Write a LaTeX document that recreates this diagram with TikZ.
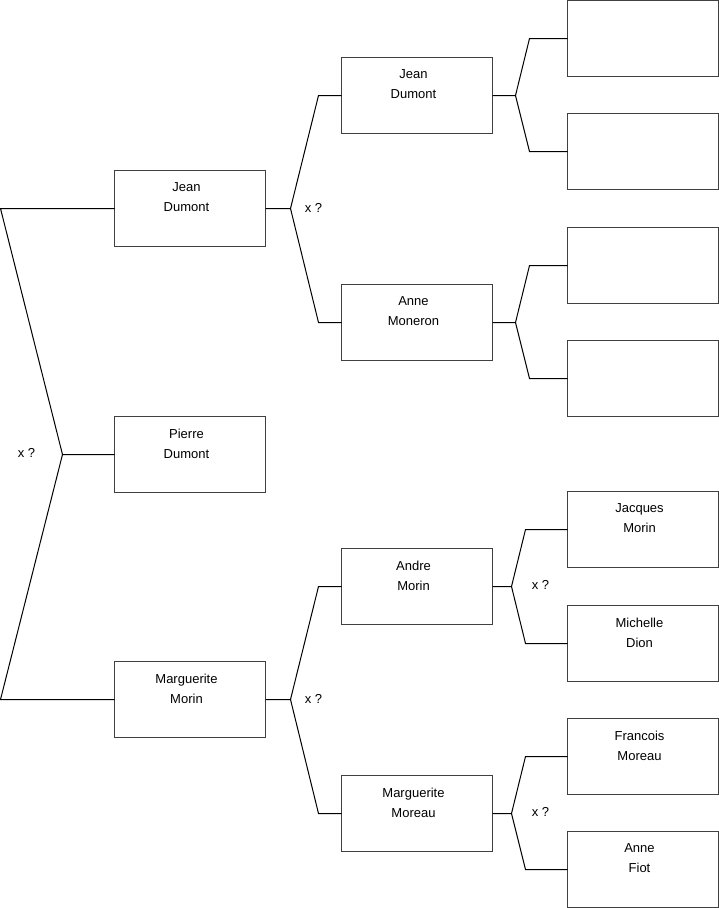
\documentclass[tikz,border=0pt]{standalone}
\usepackage{fontspec}
\setmainfont{Liberation Sans}
\begin{document}
\begin{tikzpicture}[x=1pt,y=-1pt,
  box/.style={draw=black!75, line width=1pt, minimum width=151pt, minimum height=76pt, inner sep=0pt, outer sep=0pt, anchor=north west},
  who/.style={anchor=north, inner sep=0pt, align=center, font=\fontsize{13}{20}\selectfont},
  xq/.style={inner sep=0pt, font=\fontsize{13}{15}\selectfont},
  link/.style={draw=black, line width=1pt}]
\useasboundingbox (-0.5,-0.5) rectangle (718.5,907.5);
% column 1
\node[box] (jd1) at (114,170) {};
\node[box] (pd) at (114,416) {};
\node[box] (mm1) at (114,661) {};
% column 2
\node[box] (jd2) at (341,57) {};
\node[box] (am) at (341,284) {};
\node[box] (an) at (341,548) {};
\node[box] (mmo) at (341,775) {};
% column 3
\node[box] (g1) at (567,0) {};
\node[box] (g2) at (567,113) {};
\node[box] (g3) at (567,227) {};
\node[box] (g4) at (567,340) {};
\node[box] (jm) at (567,491) {};
\node[box] (md) at (567,605) {};
\node[box] (fm) at (567,718) {};
\node[box] (af) at (567,831) {};
% texts
\node[who] (jd1t) at ([xshift=-3.5pt,yshift=-12pt]jd1.north) {Jean\\Dumont};
\node[who] (pdt) at ([xshift=-3.5pt,yshift=-12pt]pd.north) {Pierre\\Dumont};
\node[who] (mm1t) at ([xshift=-3.5pt,yshift=-12pt]mm1.north) {Marguerite\\Morin};
\node[who] (jd2t) at ([xshift=-3.5pt,yshift=-12pt]jd2.north) {Jean\\Dumont};
\node[who] (amt) at ([xshift=-3.5pt,yshift=-12pt]am.north) {Anne\\Moneron};
\node[who] (ant) at ([xshift=-3.5pt,yshift=-12pt]an.north) {Andre\\Morin};
\node[who] (mmot) at ([xshift=-3.5pt,yshift=-12pt]mmo.north) {Marguerite\\Moreau};
\node[who] (jmt) at ([xshift=-3.5pt,yshift=-12pt]jm.north) {Jacques\\Morin};
\node[who] (mdt) at ([xshift=-3.5pt,yshift=-12pt]md.north) {Michelle\\Dion};
\node[who] (fmt) at ([xshift=-3.5pt,yshift=-12pt]fm.north) {Francois\\Moreau};
\node[who] (aft) at ([xshift=-3.5pt,yshift=-12pt]af.north) {Anne\\Fiot};
% x ? labels
\node[xq] (q0) at (26,452) {x ?};
\node[xq] (q1) at (313,207) {x ?};
\node[xq] (q2) at (313,698) {x ?};
\node[xq] (q3) at (540,584) {x ?};
\node[xq] (q4) at (540,811) {x ?};
% left bracket
\coordinate (v0) at (62,454);
\coordinate (e1) at (0,208);
\coordinate (e2) at (0,699);
\draw[link] (pd.west) -- (v0) -- (e1) -- (jd1.west);
\draw[link] (v0) -- (e2) -- (mm1.west);
% upper middle
\coordinate (v1) at (290,208);
\coordinate (a1) at (318,95);
\coordinate (b1) at (318,322);
\draw[link] (jd1.east) -- (v1) -- (a1) -- (jd2.west);
\draw[link] (v1) -- (b1) -- (am.west);
% lower middle
\coordinate (v2) at (290,699);
\coordinate (a2) at (318,586);
\coordinate (b2) at (318,813);
\draw[link] (mm1.east) -- (v2) -- (a2) -- (an.west);
\draw[link] (v2) -- (b2) -- (mmo.west);
% right side
\coordinate (v3) at (515,95);
\coordinate (a3) at (529,38);
\coordinate (b3) at (529,151);
\draw[link] (jd2.east) -- (v3) -- (a3) -- (g1.west);
\draw[link] (v3) -- (b3) -- (g2.west);
\coordinate (v4) at (515,322);
\coordinate (a4) at (529,265);
\coordinate (b4) at (529,378);
\draw[link] (am.east) -- (v4) -- (a4) -- (g3.west);
\draw[link] (v4) -- (b4) -- (g4.west);
\coordinate (v5) at (511,586);
\coordinate (a5) at (525,529);
\coordinate (b5) at (525,643);
\draw[link] (an.east) -- (v5) -- (a5) -- (jm.west);
\draw[link] (v5) -- (b5) -- (md.west);
\coordinate (v6) at (511,813);
\coordinate (a6) at (525,756);
\coordinate (b6) at (525,869);
\draw[link] (mmo.east) -- (v6) -- (a6) -- (fm.west);
\draw[link] (v6) -- (b6) -- (af.west);
\end{tikzpicture}
\end{document}
